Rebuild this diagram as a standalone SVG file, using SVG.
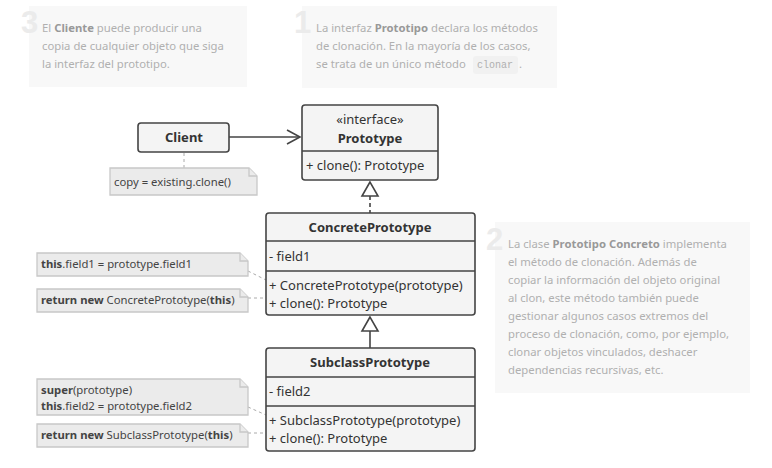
<svg xmlns="http://www.w3.org/2000/svg" width="772" height="468" viewBox="0 0 772 468">
<defs>
<style>
.ann{fill:#f8f8f8}
.num{font-family:"Liberation Sans",Arial,sans-serif;font-weight:bold;font-size:31px;fill:#ebebeb}
.at{font-family:"Noto Sans","Liberation Sans",Arial,sans-serif;font-size:11.3px;fill:#b0b0b0}
.code{font-family:"Liberation Mono","Courier New",monospace;font-size:10px;fill:#b0b0b0}
.cls{fill:#f4f4f4;stroke:#444;stroke-width:1.6}
.div{stroke:#444;stroke-width:1.6;fill:none}
.t{font-family:"Noto Sans","Liberation Sans",Arial,sans-serif;font-size:13px;fill:#333}
.tb{font-family:"Noto Sans","Liberation Sans",Arial,sans-serif;font-size:13px;font-weight:bold;fill:#333}
.note{fill:#ebebeb;stroke:#c8c8c8;stroke-width:1.3}
.nt{font-family:"Noto Sans","Liberation Sans",Arial,sans-serif;font-size:11.3px;fill:#444}
.line{stroke:#444;stroke-width:1.6;fill:none}
.dot{stroke:#aaa;stroke-width:1;stroke-dasharray:3 3;fill:none}
</style>
</defs>
<g id="annotation3">
<rect class="ann" x="29" y="6" width="218" height="81"/>
<text class="num" x="21" y="33">3</text>
<text class="at" x="42" y="32">El <tspan font-weight="bold" fill="#999">Cliente</tspan> puede producir una</text>
<text class="at" x="42" y="50">copia de cualquier objeto que siga</text>
<text class="at" x="42" y="68">la interfaz del prototipo.</text>
</g>
<g id="annotation1">
<rect class="ann" x="302" y="6" width="255" height="82"/>
<text class="num" x="294" y="33">1</text>
<text class="at" x="316" y="32">La interfaz <tspan font-weight="bold" fill="#999">Prototipo</tspan> declara los métodos</text>
<text class="at" x="316" y="50">de clonación. En la mayoría de los casos,</text>
<text class="at" x="316" y="68">se trata de un único método</text>
<rect x="473" y="56" width="45" height="18" rx="3" fill="#f1f1f1"/>
<text class="code" x="477" y="68">clonar</text>
<text class="at" x="519" y="68">.</text>
</g>
<g id="annotation2">
<rect class="ann" x="495" y="222" width="255" height="171"/>
<text class="num" x="486" y="250">2</text>
<text class="at" x="508" y="248">La clase <tspan font-weight="bold" fill="#999">Prototipo Concreto</tspan> implementa</text>
<text class="at" x="508" y="266">el método de clonación. Además de</text>
<text class="at" x="508" y="284">copiar la información del objeto original</text>
<text class="at" x="508" y="302">al clon, este método también puede</text>
<text class="at" x="508" y="320">gestionar algunos casos extremos del</text>
<text class="at" x="508" y="338">proceso de clonación, como, por ejemplo,</text>
<text class="at" x="508" y="356">clonar objetos vinculados, deshacer</text>
<text class="at" x="508" y="374">dependencias recursivas, etc.</text>
</g>
<g id="connectors">
<line class="line" x1="229" y1="137" x2="300" y2="137"/>
<polyline class="line" points="287,130 300,137 287,144"/>
<line class="line" x1="370" y1="196" x2="370" y2="213" stroke-dasharray="4 3"/>
<polygon points="370,182 362,196 378,196" fill="#fff" stroke="#444" stroke-width="1.6"/>
<line class="line" x1="370" y1="331" x2="370" y2="348"/>
<polygon points="370,317 362,331 378,331" fill="#fff" stroke="#444" stroke-width="1.6"/>
<line class="dot" x1="184" y1="153" x2="184" y2="168"/>
<line class="dot" x1="248" y1="271" x2="266" y2="280"/>
<line class="dot" x1="248" y1="298" x2="266" y2="298"/>
<line class="dot" x1="248" y1="407" x2="266" y2="415"/>
<line class="dot" x1="248" y1="433" x2="266" y2="433"/>
</g>
<g id="Client">
<rect class="cls" x="138" y="123" width="91" height="29" rx="3"/>
<text class="tb" x="184" y="142" text-anchor="middle">Client</text>
</g>
<g id="Prototype">
<rect class="cls" x="302" y="105" width="136" height="75" rx="3"/>
<line class="div" x1="302" y1="151" x2="438" y2="151"/>
<text class="t" x="370" y="124" text-anchor="middle">«interface»</text>
<text class="tb" x="370" y="143" text-anchor="middle">Prototype</text>
<text class="t" x="306" y="170">+ clone(): Prototype</text>
</g>
<g id="ConcretePrototype">
<rect class="cls" x="266" y="213" width="209" height="102" rx="3"/>
<line class="div" x1="266" y1="241" x2="475" y2="241"/>
<line class="div" x1="266" y1="271" x2="475" y2="271"/>
<text class="tb" x="370" y="232" text-anchor="middle">ConcretePrototype</text>
<text class="t" x="269" y="261">- field1</text>
<text class="t" x="269" y="290">+ ConcretePrototype(prototype)</text>
<text class="t" x="269" y="308">+ clone(): Prototype</text>
</g>
<g id="SubclassPrototype">
<rect class="cls" x="266" y="348" width="209" height="103" rx="3"/>
<line class="div" x1="266" y1="377" x2="475" y2="377"/>
<line class="div" x1="266" y1="406" x2="475" y2="406"/>
<text class="tb" x="370" y="367" text-anchor="middle">SubclassPrototype</text>
<text class="t" x="269" y="396">- field2</text>
<text class="t" x="269" y="425">+ SubclassPrototype(prototype)</text>
<text class="t" x="269" y="443">+ clone(): Prototype</text>
</g>
<g id="note-client">
<path class="note" d="M110,168 H249 L257,176 V195 H110 Z"/>
<path class="note" d="M249,168 V176 H257" fill="none"/>
<text class="nt" x="114" y="186">copy = existing.clone()</text>
</g>
<g id="note-field1">
<path class="note" d="M37,253 H240 L248,261 V276 H37 Z"/>
<path class="note" d="M240,253 V261 H248" fill="none"/>
<text class="nt" x="41" y="268"><tspan font-weight="bold">this</tspan>.field1 = prototype.field1</text>
</g>
<g id="note-clone1">
<path class="note" d="M37,289 H240 L248,297 V312 H37 Z"/>
<path class="note" d="M240,289 V297 H248" fill="none"/>
<text class="nt" x="41" y="304"><tspan font-weight="bold">return new</tspan> ConcretePrototype(<tspan font-weight="bold">this</tspan>)</text>
</g>
<g id="note-field2">
<path class="note" d="M37,379 H240 L248,387 V415 H37 Z"/>
<path class="note" d="M240,379 V387 H248" fill="none"/>
<text class="nt" x="41" y="394"><tspan font-weight="bold">super</tspan>(prototype)</text>
<text class="nt" x="41" y="410"><tspan font-weight="bold">this</tspan>.field2 = prototype.field2</text>
</g>
<g id="note-clone2">
<path class="note" d="M37,424 H240 L248,432 V447 H37 Z"/>
<path class="note" d="M240,424 V432 H248" fill="none"/>
<text class="nt" x="41" y="439"><tspan font-weight="bold">return new</tspan> SubclassPrototype(<tspan font-weight="bold">this</tspan>)</text>
</g>
</svg>
